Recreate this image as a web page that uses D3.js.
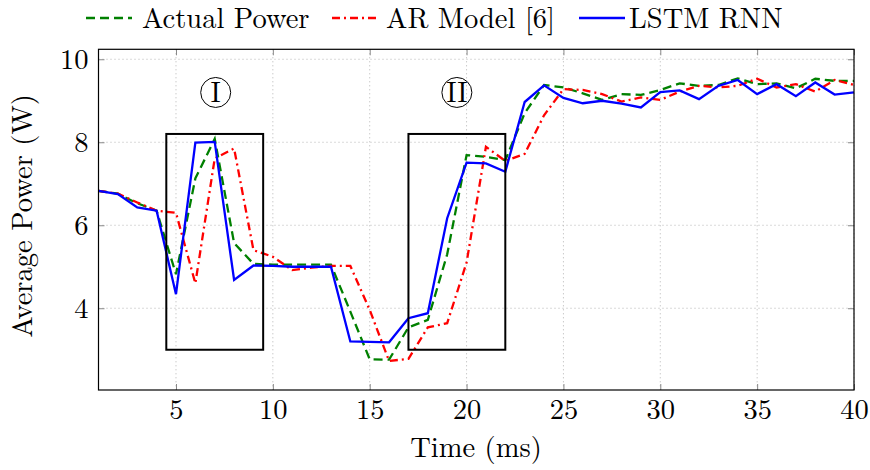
<!DOCTYPE html>
<html>
<head>
<meta charset="utf-8">
<script src="https://cdn.jsdelivr.net/npm/d3@7/dist/d3.min.js"></script>
<style>
  body { margin: 0; background: #fff; }
</style>
</head>
<body>
<svg id="chart" width="870" height="470"></svg>
<script>
// ---------------------------------------------------------------------------
// Data

const time = [1, 2, 3, 4, 5, 6, 7, 8, 9, 10, 11, 12, 13, 14, 15, 16, 17, 18, 19, 20,
  21, 22, 23, 24, 25, 26, 27, 28, 29, 30, 31, 32, 33, 34, 35, 36, 37, 38, 39, 40];

const actualPower = [6.83, 6.76, 6.53, 6.35, 4.82, 7.13, 8.08, 5.57, 5.07, 5.05,
  5.05, 5.05, 5.05, 3.92, 2.77, 2.76, 3.54, 3.72, 5.3, 7.69,
  7.65, 7.57, 8.7, 9.38, 9.32, 9.18, 9.02, 9.16, 9.14, 9.26,
  9.42, 9.36, 9.38, 9.54, 9.40, 9.42, 9.30, 9.53, 9.48, 9.48];

const arModel = [6.83, 6.76, 6.55, 6.35, 6.30, 4.60, 7.61, 7.85, 5.40, 5.24,
  4.92, 4.98, 5.02, 5.02, 3.96, 2.73, 2.78, 3.54, 3.64, 5.1,
  7.89, 7.55, 7.72, 8.65, 9.28, 9.26, 9.16, 8.98, 9.08, 9.02,
  9.22, 9.36, 9.32, 9.36, 9.53, 9.32, 9.40, 9.22, 9.50, 9.38];

const lstmRnn = [6.83, 6.75, 6.43, 6.35, 4.34, 7.99, 8.01, 4.68, 5.03, 5.02,
  5.0, 5.0, 5.0, 3.20, 3.19, 3.18, 3.76, 3.88, 6.17, 7.51,
  7.49, 7.29, 8.97, 9.37, 9.07, 8.94, 9.0, 8.93, 8.84, 9.21,
  9.25, 9.04, 9.36, 9.50, 9.16, 9.40, 9.11, 9.44, 9.15, 9.20];

const xTicks = [5, 10, 15, 20, 25, 30, 35, 40];
const yTicks = [4, 6, 8, 10];

const seriesNames = ['Actual Power', 'AR Model [6]', 'LSTM RNN'];

// highlighted regions (data coords) and their roman labels
const regionLabels = ['I', 'II'];
const regionX = [[4.5, 9.5], [17, 22]];
const regionY = [3, 8.2];
const labelX = [7.05, 19.5];
const labelY = 9.2;

// ---------------------------------------------------------------------------
// Drawing

const svg = d3.select('#chart');
const font = '"Latin Modern Roman", "Liberation Serif", serif';
const fontSize = 28.5;

const plotLeft = 98.5, plotRight = 854, plotTop = 49.3, plotBottom = 390;

const x = d3.scaleLinear().domain([1, 40]).range([plotLeft, plotRight]);
const y = d3.scaleLinear().domain([2.03, 10.24]).range([plotBottom, plotTop]);

// grid
const grid = svg.append('g')
  .attr('stroke', '#b4b4b4')
  .attr('stroke-width', 1)
  .attr('stroke-dasharray', '1,3');
grid.selectAll('line.gx').data(xTicks).enter().append('line')
  .attr('x1', d => x(d)).attr('x2', d => x(d))
  .attr('y1', plotTop).attr('y2', plotBottom);
grid.selectAll('line.gy').data(yTicks).enter().append('line')
  .attr('x1', plotLeft).attr('x2', plotRight)
  .attr('y1', d => y(d)).attr('y2', d => y(d));

// axes, ticks pointing inwards like pgfplots
const styleAxis = g => {
  g.select('.domain').remove();
  g.selectAll('.tick line').attr('stroke', '#888').attr('stroke-width', 1);
  g.selectAll('.tick text')
    .style('font-family', font)
    .style('font-size', fontSize + 'px')
    .attr('fill', '#000');
};

svg.append('g')
  .attr('transform', `translate(0,${plotBottom})`)
  .call(d3.axisBottom(x).tickValues(xTicks).tickSize(-6).tickPadding(9))
  .call(styleAxis);
svg.append('g')
  .attr('transform', `translate(0,${plotTop})`)
  .call(d3.axisTop(x).tickValues(xTicks).tickSize(-6).tickFormat(''))
  .call(styleAxis);
svg.append('g')
  .attr('transform', `translate(${plotLeft},0)`)
  .call(d3.axisLeft(y).tickValues(yTicks).tickSize(-6).tickPadding(10))
  .call(styleAxis);
svg.append('g')
  .attr('transform', `translate(${plotRight},0)`)
  .call(d3.axisRight(y).tickValues(yTicks).tickSize(-6).tickFormat(''))
  .call(styleAxis);

// series
const series = [
  {name: seriesNames[0], values: actualPower, color: '#008000', dash: '9,5'},
  {name: seriesNames[1], values: arModel, color: '#ff0000', dash: '8,4,2,4'},
  {name: seriesNames[2], values: lstmRnn, color: '#0000ff', dash: null}
];

const line = d3.line()
  .x((d, i) => x(time[i]))
  .y(d => y(d));

svg.append('g').selectAll('path')
  .data(series)
  .enter()
  .append('path')
  .attr('d', d => line(d.values))
  .attr('fill', 'none')
  .attr('stroke', d => d.color)
  .attr('stroke-width', 2.3)
  .attr('stroke-linejoin', 'miter')
  .attr('stroke-dasharray', d => d.dash);

// highlighted boxes
svg.append('g').selectAll('rect')
  .data(regionX)
  .enter()
  .append('rect')
  .attr('x', d => x(d[0]))
  .attr('y', y(regionY[1]))
  .attr('width', d => x(d[1]) - x(d[0]))
  .attr('height', y(regionY[0]) - y(regionY[1]))
  .attr('fill', 'none')
  .attr('stroke', '#000')
  .attr('stroke-width', 2);

const labels = svg.append('g').selectAll('g')
  .data(regionLabels)
  .enter()
  .append('g')
  .attr('transform', (d, i) => `translate(${x(labelX[i])},${y(labelY)})`);
labels.append('circle')
  .attr('r', 15)
  .attr('fill', 'none')
  .attr('stroke', '#000')
  .attr('stroke-width', 1);
labels.append('text')
  .attr('text-anchor', 'middle')
  .attr('y', 9.5)
  .style('font-family', font)
  .style('font-size', fontSize + 'px')
  .text(d => d);

// frame
svg.append('rect')
  .attr('x', plotLeft).attr('y', plotTop)
  .attr('width', plotRight - plotLeft).attr('height', plotBottom - plotTop)
  .attr('fill', 'none')
  .attr('stroke', '#000')
  .attr('stroke-width', 1.2);

// axis titles
svg.append('text')
  .attr('x', 476).attr('y', 457)
  .attr('text-anchor', 'middle')
  .style('font-family', font)
  .style('font-size', fontSize + 'px')
  .text('Time (ms)');

svg.append('text')
  .attr('transform', 'translate(32,216)rotate(-90)')
  .attr('text-anchor', 'middle')
  .style('font-family', font)
  .style('font-size', fontSize + 'px')
  .text('Average Power (W)');

// legend
const legendPos = [{lx: 86, tx: 142}, {lx: 332, tx: 386}, {lx: 579, tx: 629}];
const legend = svg.append('g').selectAll('g')
  .data(series)
  .enter()
  .append('g');
legend.append('line')
  .attr('x1', (d, i) => legendPos[i].lx)
  .attr('x2', (d, i) => legendPos[i].lx + 46)
  .attr('y1', 18).attr('y2', 18)
  .attr('stroke', d => d.color)
  .attr('stroke-width', 2.3)
  .attr('stroke-dasharray', d => d.dash);
legend.append('text')
  .attr('x', (d, i) => legendPos[i].tx)
  .attr('y', 28)
  .style('font-family', font)
  .style('font-size', fontSize + 'px')
  .text(d => d.name);
</script>
</body>
</html>
